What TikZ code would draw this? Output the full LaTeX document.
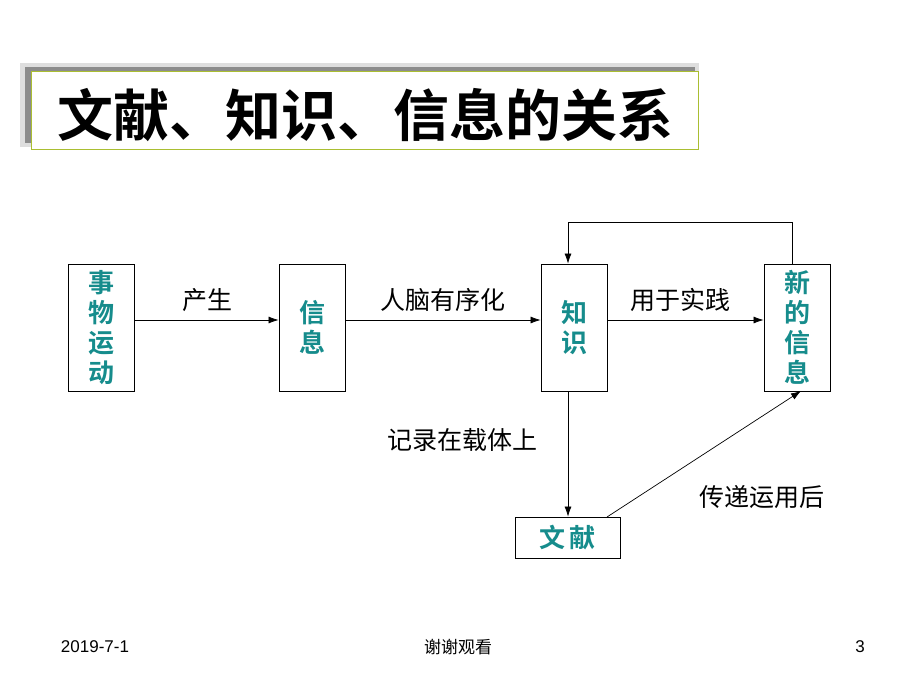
\documentclass[tikz,border=0pt]{standalone}
\usepackage{fontspec}
\setmainfont{Liberation Sans}
\newfontfamily\cjk{Noto Sans CJK SC}
\newfontfamily\cjkb{Noto Sans CJK SC Bold}
\usetikzlibrary{arrows.meta}
\definecolor{teal1}{RGB}{22,140,140}
\definecolor{titleborder}{RGB}{170,190,50}
\definecolor{shadowgray}{RGB}{140,140,140}
\definecolor{halogray}{RGB}{222,222,222}
\tikzset{
  stagebox/.style={draw=black, line width=0.8pt, minimum width=66pt, minimum height=127pt, inner sep=0pt,
    text=teal1, font=\cjkb\fontsize{26}{30}\selectfont, align=center},
  docbox/.style={draw=black, line width=0.8pt, minimum width=105pt, minimum height=41pt, inner sep=0pt,
    text=teal1, font=\cjkb\fontsize{26}{30}\selectfont},
  conn/.style={line width=0.7pt, -{Latex[length=10pt,width=7pt]}},
  lbl/.style={font=\cjk\fontsize{25}{28}\selectfont, text=black, inner sep=0pt},
  foot/.style={font=\fontsize{17}{20}\selectfont, inner sep=0pt}
}
\begin{document}
\begin{tikzpicture}[x=1pt,y=-1pt]
\useasboundingbox (0,0) rectangle (920,690);
% title
\fill[halogray] (20,63) rectangle (699,147);
\fill[shadowgray] (25,67) rectangle (695,143);
\draw[titleborder, fill=white, line width=1pt] (31,72) rectangle (698,149);
\node[font=\cjkb\fontsize{56}{60}\selectfont, inner sep=0pt] (title) at (365,115) {文献、知识、信息的关系};
% boxes
\node[stagebox] (swyd) at (101.5,327.5) {事\\物\\运\\动};
\node[stagebox] (xx) at (312,327.5) {信\\息};
\node[stagebox] (zs) at (574,327.5) {知\\识};
\node[stagebox] (xdxx) at (797,327.5) {新\\的\\信\\息};
\node[docbox] (wx) at (567.5,537.5) {文\,献};
% connectors
\draw[conn] (swyd.east |- 0,320) -- (xx.west |- 0,320);
\draw[conn] (xx.east |- 0,320) -- (zs.west |- 0,320);
\draw[conn] (zs.east |- 0,320) -- (xdxx.west |- 0,320);
\coordinate (loopR) at (792,222);
\coordinate (loopL) at (568,222);
\draw[conn] (xdxx.north -| loopR) -- (loopR) -- (loopL) -- (zs.north -| loopL);
\draw[conn] (zs.south -| loopL) -- (wx.north -| loopL);
\coordinate (wxs) at (607,517);
\coordinate (xde) at (801,391);
\draw[conn] (wxs) -- (xde);
% labels
\node[lbl] (l1) at (207,300) {产生};
\node[lbl] (l2) at (443,300) {人脑有序化};
\node[lbl] (l3) at (680,300) {用于实践};
\node[lbl] (l4) at (462,440) {记录在载体上};
\node[lbl] (l5) at (762,497) {传递运用后};
% footer
\node[foot] (date) at (95,647) {2019-7-1};
\node[foot, font=\cjk\fontsize{17}{20}\selectfont] (thanks) at (458,647) {谢谢观看};
\node[foot] (page) at (860,647) {3};
\end{tikzpicture}
\end{document}
